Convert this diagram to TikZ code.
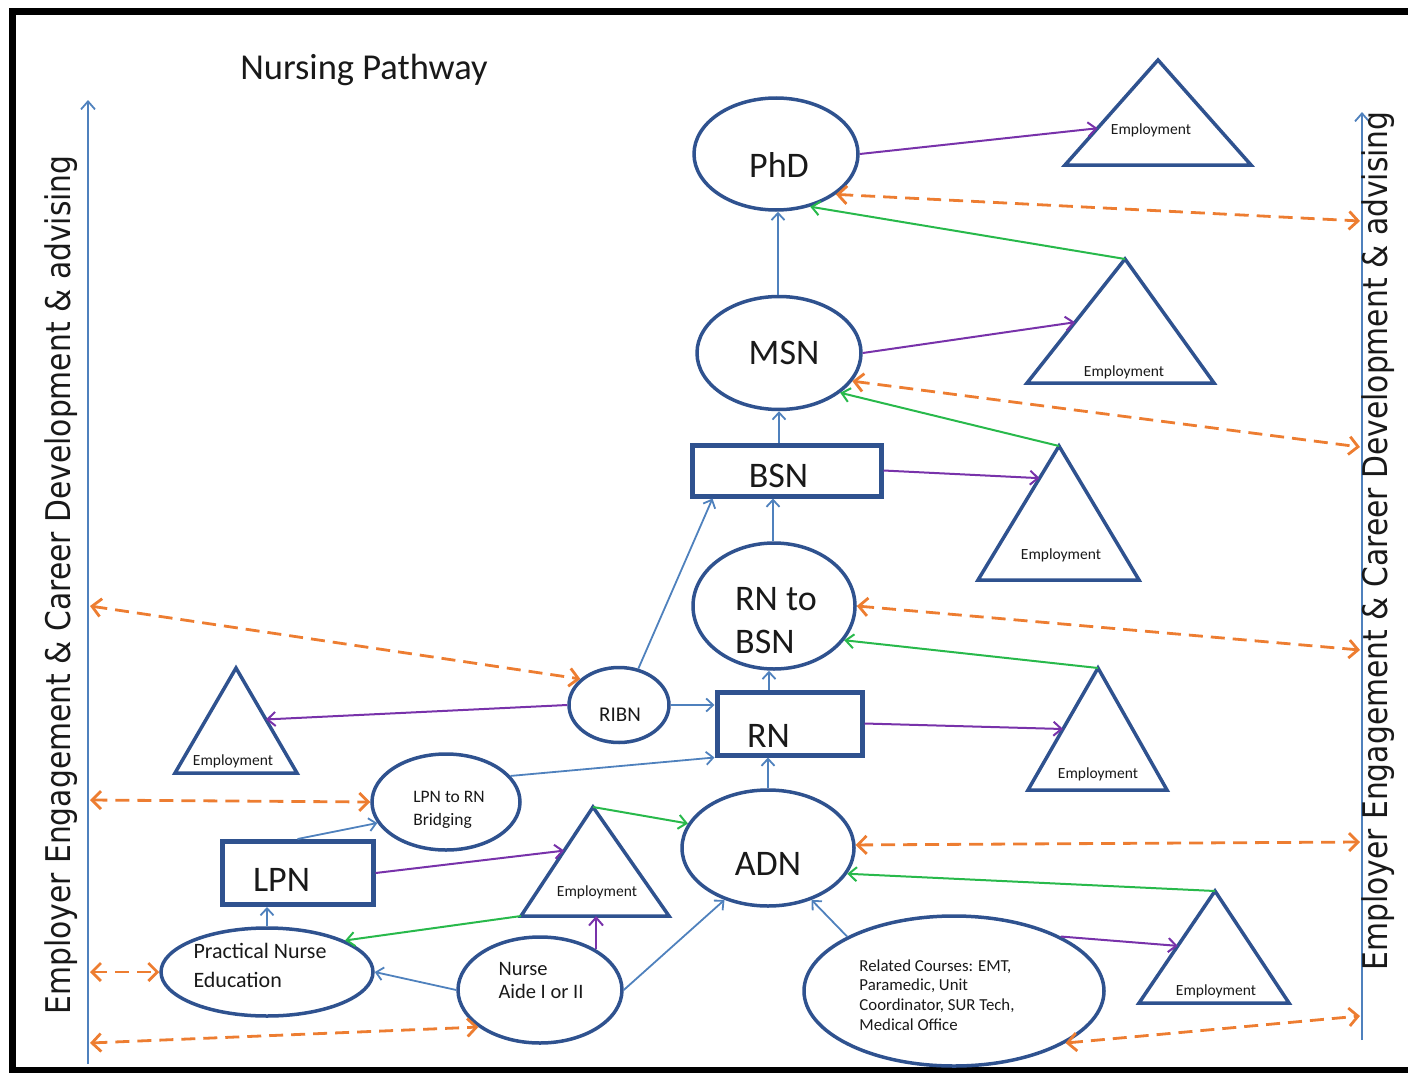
\documentclass[tikz,border=0pt]{standalone}
\usepackage{fontspec}
\setmainfont{Carlito}
\newfontfamily\axisfont{DejaVu Sans}[FakeStretch=0.876]
\usetikzlibrary{shapes.geometric,arrows.meta,calc}
\definecolor{nodeblue}{RGB}{47,82,143}
\definecolor{conblue}{RGB}{79,129,189}
\definecolor{purp}{RGB}{120,50,170}
\definecolor{grn}{RGB}{40,185,75}
\definecolor{orng}{RGB}{237,125,49}
\definecolor{txt}{RGB}{25,25,25}
\begin{document}
\begin{tikzpicture}[x=1pt,y=-1pt,
  ell/.style={draw=nodeblue, line width=3.5pt, ellipse, inner sep=0pt},
  box/.style={draw=nodeblue, line width=5pt, rectangle, inner sep=0pt},
  tri/.style={draw=nodeblue, line width=3.5pt, line join=miter},
  lbl/.style={text=txt, inner sep=0pt, align=left},
  big/.style={font=\fontsize{36}{43}\selectfont},
  emp/.style={text=txt, inner sep=0pt, font=\fontsize{15.5}{17}\selectfont},
  bl/.style={draw=conblue, line width=1.8pt, -{Straight Barb[length=7pt,width=13pt]}},
  pu/.style={draw=purp, line width=2pt, -{Straight Barb[length=8pt,width=14pt]}},
  gr/.style={draw=grn, line width=2pt, -{Straight Barb[length=8pt,width=14pt]}},
  og/.style={draw=orng, line width=2.8pt, dash pattern=on 14pt off 8pt,
     {Straight Barb[length=9pt,width=18pt]}-{Straight Barb[length=9pt,width=18pt]}},
  axl/.style={draw=conblue, line width=1.8pt, -{Straight Barb[length=8pt,width=14pt]}},
  axtext/.style={text=txt, inner sep=0pt, font=\axisfont\fontsize{34}{40}\selectfont, rotate=90}
]
\useasboundingbox (0,0) rectangle (1408,1073);
% frame
\draw[line width=7pt] (12.5,11.5) rectangle (1425,1070.5);

% title
\node[text=txt, inner sep=0pt, font=\fontsize{36.5}{40}\selectfont] (title) at (364,70) {Nursing Pathway};

% axes
\coordinate (labot) at (88,1064);
\coordinate (latop) at (88,100);
\coordinate (rabot) at (1362,1040);
\coordinate (ratop) at (1362,112);
\draw[axl] (labot) -- (latop);
\draw[axl] (rabot) -- (ratop);
\node[axtext] (lefttxt) at (61,585) {Employer Engagement \& Career Development \& advising};
\node[axtext] (righttxt) at (1378,541) {Employer Engagement \& Career Development \& advising};

% main nodes
\node[ell, minimum width=164pt, minimum height=112pt] (phd) at (776,154) {};
\node[ell, minimum width=164pt, minimum height=113pt] (msn) at (779,353) {};
\node[box, minimum width=189pt, minimum height=51pt] (bsn) at (786.5,470.5) {};
\node[ell, minimum width=162pt, minimum height=126pt] (rtb) at (774,606) {};
\node[box, minimum width=145pt, minimum height=63pt] (rn) at (789.5,723.5) {};
\node[ell, minimum width=172pt, minimum height=116pt] (adn) at (768,848) {};
\node[ell, minimum width=100pt, minimum height=75pt] (ribn) at (619,705) {};
\node[ell, minimum width=148pt, minimum height=96pt] (brg) at (446,802) {};
\node[box, minimum width=151pt, minimum height=63pt] (lpn) at (297.5,873) {};
\node[ell, minimum width=212pt, minimum height=88pt] (pne) at (267,972) {};
\node[ell, minimum width=164pt, minimum height=106pt] (na) at (540,990) {};
\node[ell, minimum width=300pt, minimum height=150pt] (rel) at (954,991) {};

% node texts
\node[lbl, big] (phdt) at ([shift={(3,11)}]phd.center) {PhD};
\node[lbl, big] (msnt) at ([shift={(5,0)}]msn.center) {MSN};
\node[lbl, big] (bsnt) at ([shift={(-8,5)}]bsn.center) {BSN};
\node[lbl, big] (rtbt) at ([shift={(2,15)}]rtb.center) {RN to\\BSN};
\node[lbl, big] (rnt) at ([shift={(-21,12)}]rn.center) {RN};
\node[lbl, big] (adnt) at ([shift={(0,16)}]adn.center) {ADN};
\node[lbl, font=\fontsize{21}{24}\selectfont] (ribnt) at ([shift={(1,10)}]ribn.center) {RIBN};
\node[lbl, font=\fontsize{17.5}{23}\selectfont] (brgt) at ([shift={(3,8)}]brg.center) {LPN to RN\\Bridging};
\node[lbl, big] (lpnt) at ([shift={(-16,7)}]lpn.center) {LPN};
\node[lbl, font=\fontsize{22}{29}\selectfont] (pnet) at ([shift={(-7,-7)}]pne.center) {Practical Nurse\\Education};
\node[lbl, font=\fontsize{20.5}{23}\selectfont] (nat) at ([shift={(1,-10)}]na.center) {Nurse\\Aide I or II};
\node[lbl, font=\fontsize{16.8}{19.7}\selectfont] (relt) at ([shift={(-17,4)}]rel.center) {Related Courses: EMT,\\Paramedic, Unit\\Coordinator, SUR Tech,\\Medical Office};

% triangles
\coordinate (t1a) at (1158,60);  \coordinate (t1l) at (1065,165); \coordinate (t1r) at (1251,165);
\coordinate (t2a) at (1125,259); \coordinate (t2l) at (1027,383); \coordinate (t2r) at (1214,383);
\coordinate (t3a) at (1059,446); \coordinate (t3l) at (978,580);  \coordinate (t3r) at (1139,580);
\coordinate (t4a) at (236,668);  \coordinate (t4l) at (175,773);  \coordinate (t4r) at (297,773);
\coordinate (t5a) at (1098,668); \coordinate (t5l) at (1028,790); \coordinate (t5r) at (1167,790);
\coordinate (t6a) at (593,807);  \coordinate (t6l) at (521,916);  \coordinate (t6r) at (669,916);
\coordinate (t7a) at (1215,891); \coordinate (t7l) at (1139,1003); \coordinate (t7r) at (1289,1003);
\foreach \t in {t1,t2,t3,t4,t5,t6,t7} {\draw[tri] (\t a) -- (\t l) -- (\t r) -- cycle;}
\node[emp] (e1) at (1151,130) {Employment};
\node[emp] (e2) at (1124,372) {Employment};
\node[emp] (e3) at (1061,555) {Employment};
\node[emp] (e4) at (233,761) {Employment};
\node[emp] (e5) at (1098,774) {Employment};
\node[emp] (e6) at (597,892) {Employment};
\node[emp] (e7) at (1216,991) {Employment};

% blue pathway arrows
\draw[bl] (msn.north -| 778,0) -- (phd.south -| 778,0);
\draw[bl] (bsn.north -| msn.south) -- (msn.south);
\draw[bl] (rtb.north -| 773,0) -- (bsn.south -| 773,0);
\draw[bl] (rn.north -| 769,0) -- (rtb.south -| 769,0);
\draw[bl] (adn.north) -- (adn.north |- rn.south);
\draw[bl] (ribn.62) -- ($(bsn.south west)+(23,0)$);
\draw[bl] (ribn.east) -- (ribn.east -| rn.west);
\draw[bl] (brg.22) -- (rn.south west);
\draw[bl] (lpn.north) -- (brg.197);
\draw[bl] (pne.north) -- (pne.north |- lpn.south);
\draw[bl] (na.west) -- (pne.east);
\draw[bl] (na.east) -- (adn.230);
\draw[bl] (rel.153) -- (adn.310);

% purple employment arrows
\draw[pu] (phd.east) -- ($(t1a)!0.65!(t1l)$);
\draw[pu] (msn.east) -- ($(t2a)!0.51!(t2l)$);
\draw[pu] (bsn.east) -- ($(t3a)!0.24!(t3l)$);
\draw[pu] (rn.east) -- ($(t5a)!0.5!(t5l)$);
\draw[pu] (ribn.west) -- ($(t4a)!0.49!(t4r)$);
\draw[pu] (lpn.east) -- ($(t6a)!0.4!(t6l)$);
\draw[pu] (na.36) -- (na.36 |- t6l);
\draw[pu] (rel.27) -- ($(t7a)!0.49!(t7l)$);

% green arrows
\draw[gr] (t2a) -- (phd.303);
\draw[gr] (t3a) -- (msn.327);
\draw[gr] (t5a) -- (rtb.334);
\draw[gr] (t7a) -- (adn.342);
\draw[gr] (t6a) -- (adn.163);
\draw[gr] (t6l) -- (pne.22);

% orange advising arrows
\coordinate (r1) at (1360,221);
\coordinate (r2) at (1360,447);
\coordinate (r3) at (1360,650);
\coordinate (r4) at (1360,842);
\coordinate (r5) at (1360,1016);
\coordinate (l1) at (90,606);
\coordinate (l2) at (90,800);
\coordinate (l3) at (90,972);
\coordinate (l4) at (90,1043);
\draw[og] (phd.326) -- (r1);
\draw[og] (msn.339) -- (r2);
\draw[og] (rtb.0) -- (r3);
\draw[og] (adn.2) -- (r4);
\draw[og] (rel.335) -- (r5);
\draw[og] (l1) -- (ribn.146);
\draw[og] (l2) -- (brg.west);
\draw[og] (l3) -- (pne.west);
\draw[og] (l4) -- (na.211);
\end{tikzpicture}
\end{document}
